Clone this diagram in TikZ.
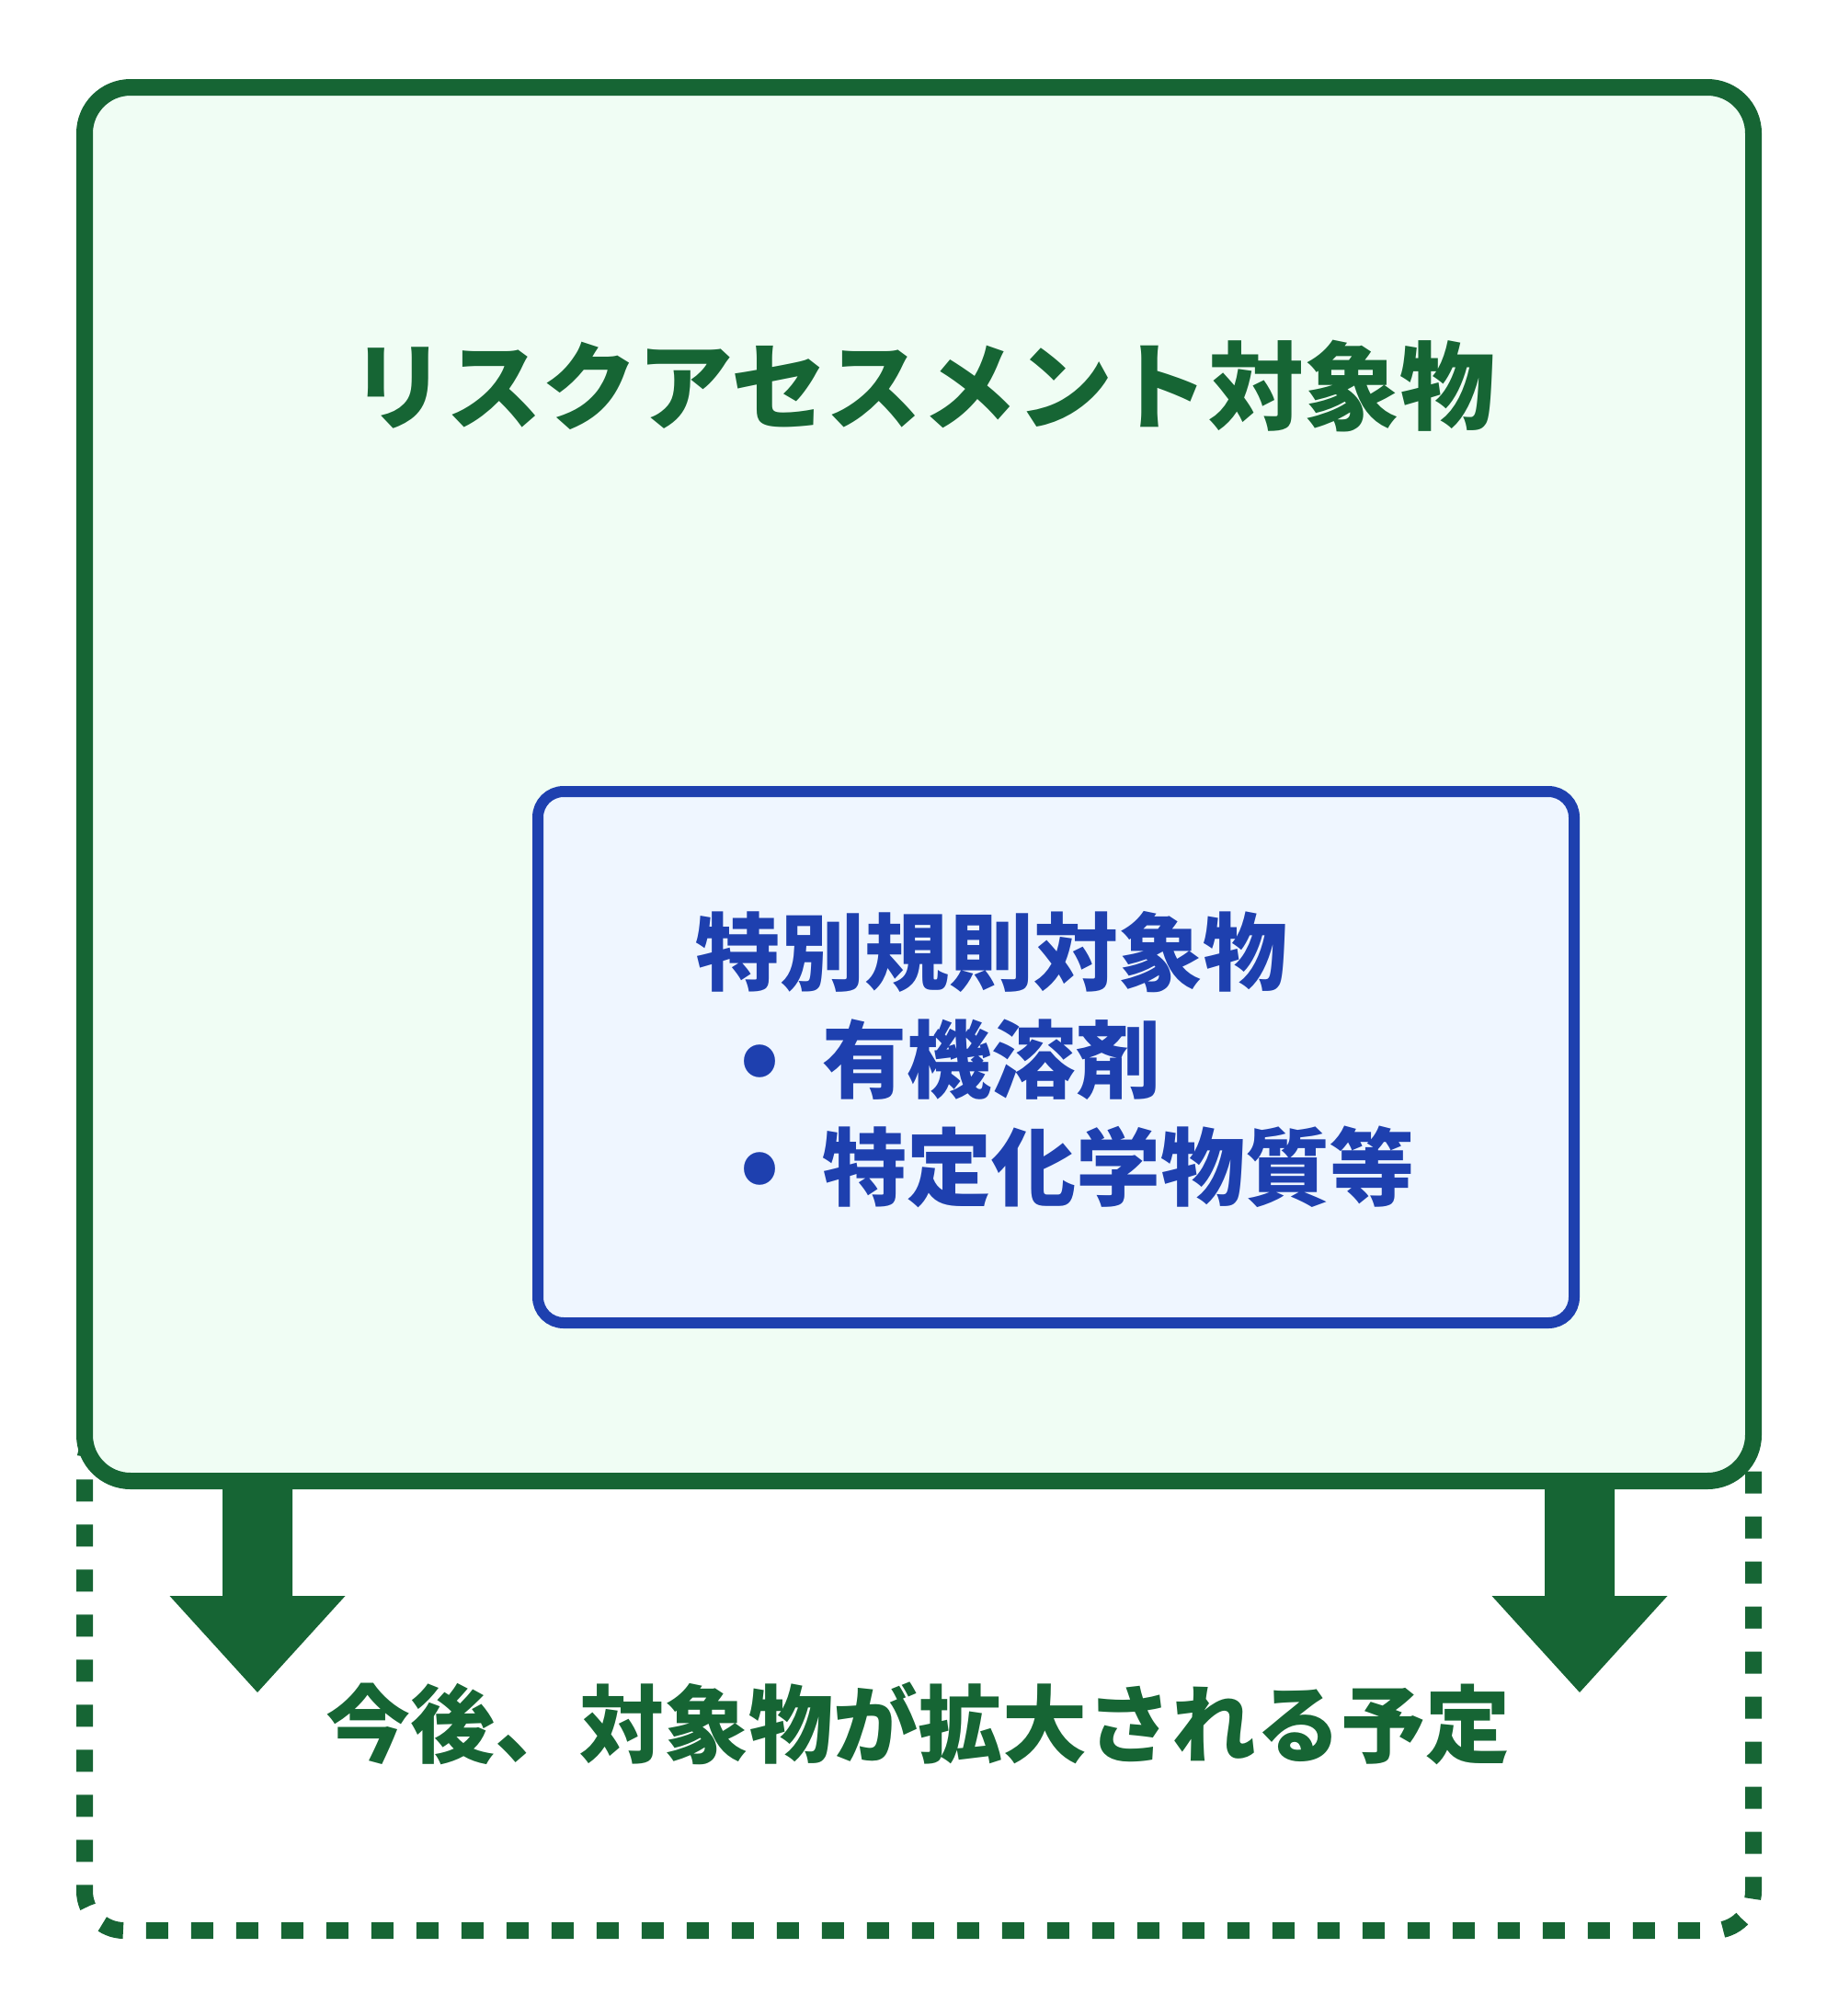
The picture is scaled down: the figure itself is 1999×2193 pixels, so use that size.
\documentclass[tikz,border=0pt]{standalone}
\usepackage{fontspec}
\newfontfamily\jp{Noto Sans CJK JP}
\usetikzlibrary{calc}
\definecolor{gline}{HTML}{166534}
\definecolor{gfill}{HTML}{F0FDF4}
\definecolor{bline}{HTML}{1E40AF}
\definecolor{bfill}{HTML}{EFF6FF}
\tikzset{
  outerbox/.style={draw=gline, fill=gfill, line width=18pt, rounded corners=50pt, inner sep=0pt},
  innerbox/.style={draw=bline, fill=bfill, line width=12pt, rounded corners=28pt, inner sep=0pt},
  futurebox/.style={draw=gline, line width=18pt, dash pattern=on 24pt off 25pt, rounded corners=43pt, inner sep=0pt},
  bigarrow/.style={fill=gline},
  titletext/.style={text=gline, font=\jp\bfseries\fontsize{104}{120}\selectfont, inner sep=0pt, anchor=base},
  bluetext/.style={text=bline, font=\jp\bfseries\fontsize{92}{110}\selectfont, inner sep=0pt, anchor=base west},
  notetext/.style={text=gline, font=\jp\bfseries\fontsize{92}{110}\selectfont, inner sep=0pt, anchor=base},
}
\newcommand{\bul}[1]{\llap{\makebox[0pt]{\fontsize{110}{110}\selectfont •}\hspace{68pt}}#1}
\begin{document}
\begin{tikzpicture}[x=1pt,y=-1pt]
\useasboundingbox (0,0) rectangle (1999,2193);
% future (dotted) box
\node[futurebox, minimum width=1815pt, minimum height=550pt] (future) at (999.5,1825) {};
% outer green box
\node[outerbox, minimum width=1815pt, minimum height=1516pt] (outer) at (999.5,853) {};
% inner blue box
\node[innerbox, minimum width=1127pt, minimum height=578pt] (inner) at (1148.5,1150) {};
% texts
\node[titletext] (title) at (1004,459.5) {リスクアセスメント対象物};
\node[bluetext] (sp) at (756,1070) {特別規則対象物};
\node[bluetext] (l1) at (894,1187) {\bul{有機溶剤}};
\node[bluetext] (l2) at (894,1304) {\bul{特定化学物質等}};
\node[notetext] (note) at (998,1910) {今後、対象物が拡大される予定};
% arrows
\coordinate (t1) at (280,1841);
\coordinate (t2) at (1718,1841);
\foreach \t in {t1,t2}{
  \fill[bigarrow] ($(\t)+(-38,-236)$) -- ($(\t)+(38,-236)$) -- ($(\t)+(38,-105)$) -- ($(\t)+(95.5,-105)$)
     -- (\t) -- ($(\t)+(-95.5,-105)$) -- ($(\t)+(-38,-105)$) -- cycle;
}
\end{tikzpicture}
\end{document}
